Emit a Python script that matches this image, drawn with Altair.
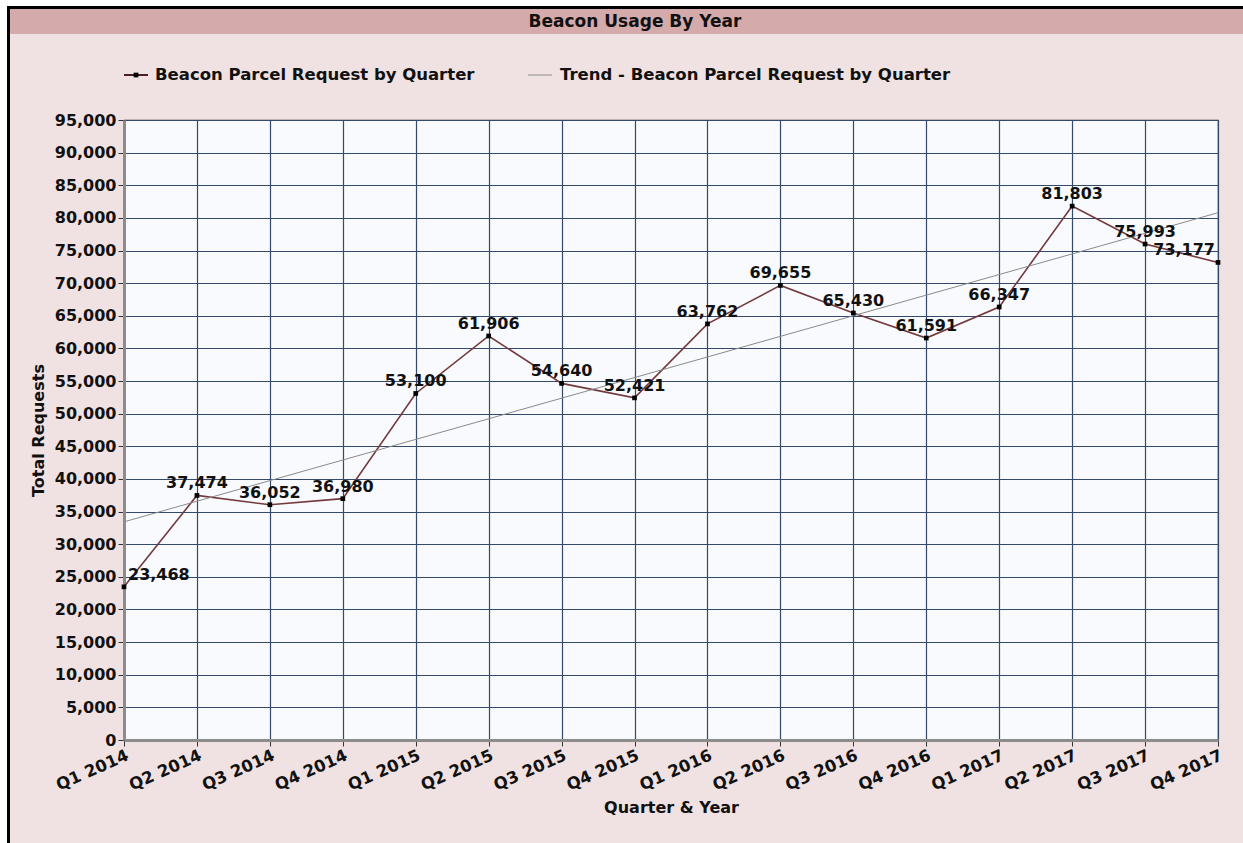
import altair as alt
import pandas as pd

quarters = ["Q1 2014", "Q2 2014", "Q3 2014", "Q4 2014",
            "Q1 2015", "Q2 2015", "Q3 2015", "Q4 2015",
            "Q1 2016", "Q2 2016", "Q3 2016", "Q4 2016",
            "Q1 2017", "Q2 2017", "Q3 2017", "Q4 2017"]
requests = [23468, 37474, 36052, 36980,
            53100, 61906, 54640, 52421,
            63762, 69655, 65430, 61591,
            66347, 81803, 75993, 73177]
y_ticks = list(range(0, 95001, 5000))

title_text = "Beacon Usage By Year"
series_name = "Beacon Parcel Request by Quarter"
trend_name = "Trend - Beacon Parcel Request by Quarter"

df = pd.DataFrame({"idx": list(range(len(quarters))), "quarter": quarters, "requests": requests})

W, H = 1094, 620
FONT = "DejaVu Sans"
one = alt.Data(values=[{"a": 1}])

label_expr = "[" + ",".join("'%s'" % q for q in quarters) + "][datum.value]"

x_axis = alt.Axis(values=list(range(16)), labelExpr=label_expr, labelAngle=336,
                  labelAlign="right", labelBaseline="top", labelPadding=1,
                  labelFontSize=16.5,
                  title="Quarter & Year", titleY=67, titleBaseline="middle")
y_axis = alt.Axis(values=y_ticks, format=",.0f", title="Total Requests", titlePadding=8)
x_scale = alt.Scale(domain=[0, 15], nice=False, zero=False)
y_scale = alt.Scale(domain=[0, 95000], nice=False)


def xe():
    return alt.X("idx:Q", scale=x_scale, axis=x_axis)


def ye():
    return alt.Y("requests:Q", scale=y_scale, axis=y_axis)


base = alt.Chart(df)

trend = base.transform_regression("idx", "requests").mark_line(
    color="#8a8a8a", strokeWidth=1).encode(x=xe(), y=ye())

line = base.mark_line(color="#74393b", strokeWidth=1.6).encode(x=xe(), y=ye())
pts = base.mark_point(shape="square", filled=True, color="#000000", size=22, opacity=1).encode(
    x=xe(), y=ye())

txt_common = dict(font=FONT, fontSize=16, fontWeight="bold", color="#111111", baseline="bottom", dy=-4)
lab_mid = base.transform_filter("datum.idx > 0 && datum.idx < 15").mark_text(
    align="center", **txt_common).encode(x=xe(), y=ye(), text=alt.Text("requests:Q", format=",.0f"))
lab_first = base.transform_filter("datum.idx == 0").mark_text(
    align="left", dx=4, **txt_common).encode(x=xe(), y=ye(), text=alt.Text("requests:Q", format=",.0f"))
lab_last = base.transform_filter("datum.idx == 15").mark_text(
    align="right", dx=-3, **txt_common).encode(x=xe(), y=ye(), text=alt.Text("requests:Q", format=",.0f"))

# decoration: frame, title bar, legend (pixel offsets relative to plot origin at 124,120)
white_left = alt.Chart(one).mark_rect(color="white").encode(
    x=alt.value(-124), x2=alt.value(-116), y=alt.value(-120), y2=alt.value(H + 103))
white_top = alt.Chart(one).mark_rect(color="white").encode(
    x=alt.value(-124), x2=alt.value(W + 25), y=alt.value(-120), y2=alt.value(-114))
border_v = alt.Chart(one).mark_rule(color="black", strokeWidth=3).encode(
    x=alt.value(-115.5), y=alt.value(-114), y2=alt.value(H + 103))
border_h = alt.Chart(one).mark_rule(color="black", strokeWidth=3).encode(
    x=alt.value(-117), x2=alt.value(W + 25), y=alt.value(-112.5))
title_bar = alt.Chart(one).mark_rect(color="#d4aaab").encode(
    x=alt.value(-114), x2=alt.value(W + 25), y=alt.value(-111), y2=alt.value(-86))
title_mark = alt.Chart(one).mark_text(font=FONT, fontSize=17, fontWeight="bold", color="#111111",
                                      align="center", baseline="middle").encode(
    x=alt.value(511), y=alt.value(-98), text=alt.value(title_text))

leg1_line = alt.Chart(one).mark_rule(color="#4a2020", strokeWidth=2).encode(
    x=alt.value(0), x2=alt.value(24), y=alt.value(-45))
leg1_pt = alt.Chart(one).mark_point(shape="square", filled=True, color="black", size=22, opacity=1).encode(
    x=alt.value(12), y=alt.value(-45))
leg1_txt = alt.Chart(one).mark_text(font=FONT, fontSize=16.5, fontWeight="bold", color="#111111",
                                    align="left", baseline="middle").encode(
    x=alt.value(31), y=alt.value(-45), text=alt.value(series_name))
leg2_line = alt.Chart(one).mark_rule(color="#8a8a8a", strokeWidth=1).encode(
    x=alt.value(404), x2=alt.value(428), y=alt.value(-45))
leg2_txt = alt.Chart(one).mark_text(font=FONT, fontSize=16.5, fontWeight="bold", color="#111111",
                                    align="left", baseline="middle").encode(
    x=alt.value(436), y=alt.value(-45), text=alt.value(trend_name))

chart = alt.layer(
    white_left, white_top, border_v, border_h, title_bar, title_mark,
    leg1_line, leg1_pt, leg1_txt, leg2_line, leg2_txt,
    line, trend, pts, lab_mid, lab_first, lab_last
).properties(
    width=W, height=H,
    autosize="none",
    padding={"left": 124, "top": 120, "right": 25, "bottom": 103},
    background="#f0e2e2",
).configure_view(
    fill="#f8fafd", stroke="#333333", strokeWidth=1.2
).configure_axis(
    labelFont=FONT, labelFontSize=16, labelFontWeight="bold", labelColor="#111111",
    titleFont=FONT, titleFontSize=16, titleFontWeight="bold", titleColor="#111111",
    gridColor="#34496b", gridWidth=1.2, gridOpacity=1,
    domainColor="#8c8c8c", domainWidth=3,
    tickColor="#333333", tickSize=6, tickWidth=1,
    labelOverlap=False,
)

chart.save("out.html", embed_options={"renderer": "svg", "actions": False})
